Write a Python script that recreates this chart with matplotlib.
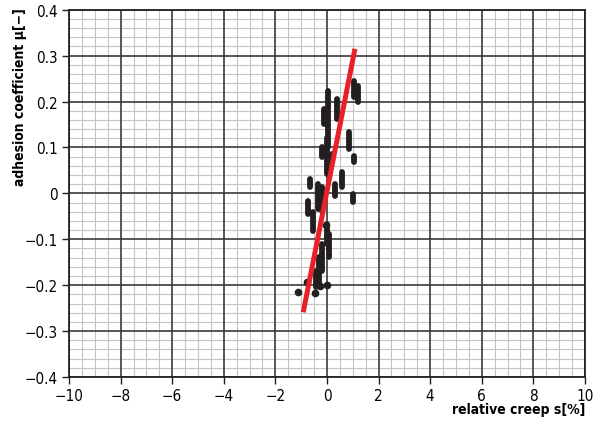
import matplotlib
matplotlib.use("Agg")
import matplotlib.pyplot as plt
from matplotlib.ticker import MultipleLocator

plt.rcParams['font.family'] = ['DejaVu Sans']
plt.rcParams['font.stretch'] = 'condensed'

# measured data, drawn as short vertical strokes: x, y_start, y_end
seg_x = [0.05, 0.0, 0.38, -0.12, 1.05, 1.2, 0.86, -0.18, 1.03, 0.2,
         0.58, 0.31, -0.64, -0.34, -0.18, 1.02, -0.72, -0.53, -0.01, 0.09,
         -0.2, -0.3, -0.43]
seg_y0 = [0.222, 0.12, 0.206, 0.184, 0.245, 0.235, 0.134, 0.101, 0.082, 0.086,
          0.047, 0.021, 0.032, 0.021, 0.014, -0.001, -0.016, -0.040, -0.066, -0.088,
          -0.110, -0.138, -0.169]
seg_y1 = [0.10, 0.042, 0.162, 0.151, 0.21, 0.20, 0.097, 0.080, 0.069, 0.071,
          0.014, -0.005, 0.014, -0.034, -0.038, -0.019, -0.045, -0.082, -0.110, -0.138,
          -0.169, -0.197, -0.204]

# single points
dot_x = [0.01, -0.27, -0.79, -1.11, -0.47, -0.04]
dot_y = [-0.200, -0.201, -0.194, -0.215, -0.217, -0.069]

# fitted line
fit_x = [-0.92, 1.085]
fit_y = [-0.259, 0.315]

xticks = [-10, -8, -6, -4, -2, 0, 2, 4, 6, 8, 10]
xlabels = ['\u221210', '\u22128', '\u22126', '\u22124', '\u22122', '0', '2', '4', '6', '8', '10']
yticks = [-0.4, -0.3, -0.2, -0.1, 0, 0.1, 0.2, 0.3, 0.4]
ylabels = ['\u22120.4', '\u22120.3', '\u22120.2', '\u22120.1', '0', '0.1', '0.2', '0.3', '0.4']

fig = plt.figure(figsize=(5.95, 4.31), dpi=100)
ax = fig.add_axes([0.116, 0.123, 0.867, 0.852])

ax.set_xlim(-10, 10)
ax.set_ylim(-0.4, 0.4)
ax.xaxis.set_minor_locator(MultipleLocator(0.5))
ax.yaxis.set_minor_locator(MultipleLocator(0.02))
ax.set_xticks(xticks)
ax.set_xticklabels(xlabels)
ax.set_yticks(yticks)
ax.set_yticklabels(ylabels)
ax.tick_params(which='major', direction='out', length=5, width=1, color='#222222',
               labelsize=11, pad=3)
ax.tick_params(which='minor', length=0)

# light minor grid below, dark major lines on top of it
ax.grid(which='minor', color='#c4c4c4', lw=0.8)
ax.set_axisbelow(True)
for t in xticks:
    ax.axvline(t, color='#3a3a3a', lw=1.2, zorder=1)
for t in yticks:
    ax.axhline(t, color='#3a3a3a', lw=1.2, zorder=1)
for s in ax.spines.values():
    s.set_color('#222222')
    s.set_linewidth(1.3)

for x, a, b in zip(seg_x, seg_y0, seg_y1):
    ax.plot([x, x], [a, b], color='#231f20', lw=4.2, solid_capstyle='round', zorder=3)
ax.plot(dot_x, dot_y, 'o', color='#231f20', ms=4.5, zorder=3)

ax.plot(fit_x, fit_y, color='#e8202a', lw=3.6, solid_capstyle='butt', zorder=4)

fig.text(0.034, 0.982, 'adhesion coefficient \u03bc[\u2212]', rotation=90,
         ha='center', va='top', fontsize=10, fontweight='bold')
fig.text(0.983, 0.048, 'relative creep s[%]', ha='right', va='center',
         fontsize=10, fontweight='bold')

fig.savefig('out.png', dpi=100)
